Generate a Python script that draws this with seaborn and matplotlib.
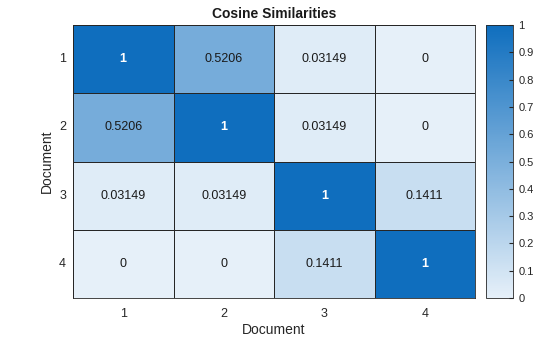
import numpy as np
import pandas as pd
import matplotlib
matplotlib.use("Agg")
import matplotlib.pyplot as plt
from matplotlib.colors import LinearSegmentedColormap
import seaborn as sns

docs = ["1", "2", "3", "4"]
row1 = [1.0, 0.5206, 0.03149, 0.0]
row2 = [0.5206, 1.0, 0.03149, 0.0]
row3 = [0.03149, 0.03149, 1.0, 0.1411]
row4 = [0.0, 0.0, 0.1411, 1.0]
cbar_ticks = [0, 0.1, 0.2, 0.3, 0.4, 0.5, 0.6, 0.7, 0.8, 0.9, 1]

data = pd.DataFrame([row1, row2, row3, row4], index=docs, columns=docs)
labels = data.map(lambda v: f"{v:.4g}")

plt.rcParams['font.family'] = ['Liberation Sans', 'DejaVu Sans']
cmap = LinearSegmentedColormap.from_list("mblue", ["#E6F0F9", "#0F6EBE"])

fig = plt.figure(figsize=(5.6, 3.37), dpi=100)
ax = fig.add_axes([73/560, 39/337, 402/560, 273/337])
cax = fig.add_axes([486/560, 39/337, 27/560, 273/337])

sns.heatmap(data, ax=ax, cbar_ax=cax, cmap=cmap, vmin=0, vmax=1,
            annot=labels, fmt="", linewidths=0.6, linecolor="#262626",
            annot_kws={"fontsize": 9})

for t, v in zip(ax.texts, data.values.flatten()):
    if v > 0.7:
        t.set_color("white")
        t.set_fontweight("bold")
    else:
        t.set_color("#1a1a1a")

for s in ax.spines.values():
    s.set_visible(True)
    s.set_color("#262626")
    s.set_linewidth(0.6)

ax.tick_params(axis="x", length=0, labelsize=9, colors="#262626", pad=7)
ax.tick_params(axis="y", length=0, labelsize=9, colors="#262626", pad=5)
ax.set_yticklabels(docs, rotation=0)
ax.set_xticklabels(docs, rotation=0)
ax.set_xlabel("Document", fontsize=10, color="#262626", labelpad=2)
ax.set_ylabel("Document", fontsize=10, color="#262626", labelpad=4)
ax.set_title("Cosine Similarities", fontsize=10, fontweight="bold", color="#1a1a1a", pad=5)

cb = ax.collections[0].colorbar
cb.set_ticks(cbar_ticks)
cb.set_ticklabels([f"{v:g}" for v in cbar_ticks])
cb.outline.set_edgecolor("#262626")
cb.outline.set_linewidth(0.6)
cax.tick_params(labelsize=8, direction="in", length=3, colors="#262626", pad=4)

fig.savefig("out.png", dpi=100)
